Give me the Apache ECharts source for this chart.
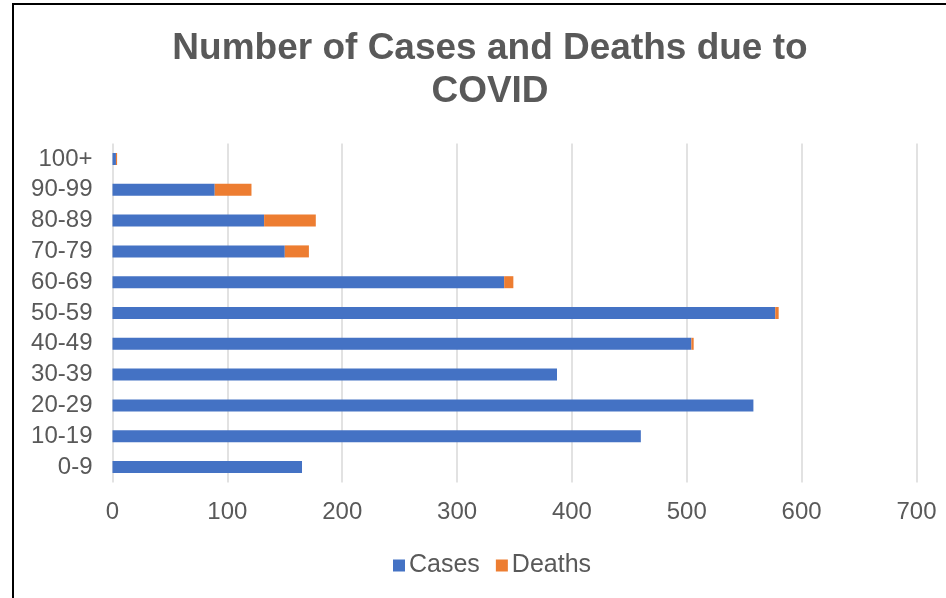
<!DOCTYPE html>
<html>
<head>
<meta charset="utf-8">
<script src="https://cdn.jsdelivr.net/npm/echarts@6/dist/echarts.min.js"></script>
<style>html,body{margin:0;padding:0;background:#fff;}#c{width:946px;height:598px;}</style>
</head>
<body>
<div id="c"></div>
<script>
const categories = ['0-9','10-19','20-29','30-39','40-49','50-59','60-69','70-79','80-89','90-99','100+'];
const cases = [165, 460, 558, 387, 504, 577, 341, 150, 132, 89, 3];
const deaths = [0, 0, 0, 0, 2, 3, 8, 21, 45, 32, 1];
const xTicks = [0, 100, 200, 300, 400, 500, 600, 700];

const font = '"Liberation Sans", Arial, sans-serif';
const chart = echarts.init(document.getElementById('c'));
chart.setOption({
  backgroundColor: '#fff',
  animation: false,
  title: {
    text: 'Number of Cases and Deaths due to\nCOVID',
    left: 485,
    textAlign: 'center',
    top: 22,
    textStyle: { fontFamily: font, fontSize: 37, fontWeight: 'bold', color: '#595959', lineHeight: 43 }
  },
  graphic: [{
    type: 'rect',
    shape: { x: 13, y: 4, width: 1000, height: 700 },
    style: { fill: 'none', stroke: '#000', lineWidth: 2 },
    silent: true
  }],
  legend: {
    data: ['Cases', 'Deaths'],
    left: 388,
    top: 548,
    itemWidth: 12,
    itemHeight: 12,
    itemGap: 16,
    icon: 'rect',
    textStyle: { fontFamily: font, fontSize: 25, color: '#595959', padding: [0, 0, 0, -1] }
  },
  grid: { left: 112.5, right: 29.5, top: 143.6, bottom: 115.6, containLabel: false },
  xAxis: {
    type: 'value',
    min: xTicks[0],
    max: xTicks[xTicks.length - 1],
    interval: 100,
    axisLine: { show: false },
    axisTick: { show: false },
    axisLabel: { fontFamily: font, fontSize: 24, color: '#595959', margin: 18 },
    splitLine: { show: true, lineStyle: { color: '#d9d9d9', width: 1.5 } }
  },
  yAxis: {
    type: 'category',
    data: categories,
    axisLine: { show: false },
    axisTick: { show: false },
    axisLabel: { interval: 0, fontFamily: font, fontSize: 24, color: '#595959', margin: 20 }
  },
  series: [
    { name: 'Cases', type: 'bar', stack: 'total', data: cases, barWidth: 12, itemStyle: { color: '#4472C4' } },
    { name: 'Deaths', type: 'bar', stack: 'total', data: deaths, barWidth: 12, itemStyle: { color: '#ED7D31' } }
  ]
});
</script>
</body>
</html>
